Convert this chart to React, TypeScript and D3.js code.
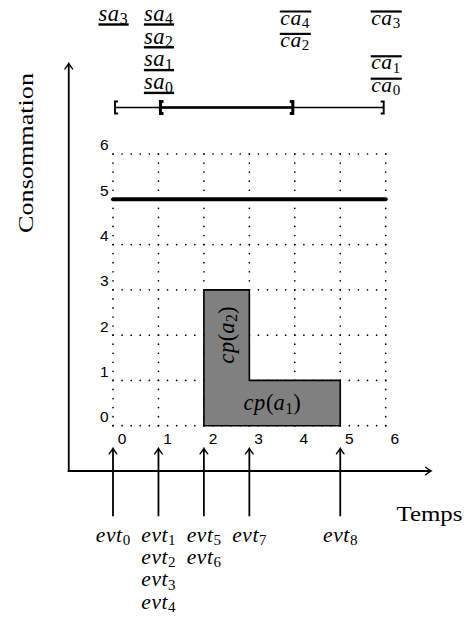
import { useRef, useEffect } from 'react';
import * as d3 from 'd3';

// grid ticks (labels sit 0.2 units past their grid line)
const timeTicks = [0, 1, 2, 3, 4, 5, 6];
const consumptionTicks = [0, 1, 2, 3, 4, 5, 6];
const tickShift = 0.2;

// events on the time axis
const eventTimes = [0, 1, 2, 3, 5];
const eventIds = [[0], [1, 2, 3, 4], [5, 6], [7], [8]];

// consumption profiles, stacked in this order
const profileSubs = ['1', '2'];
const profileStart = [2, 2];
const profileEnd = [5, 3];
const profileLevel = [1, 2];

// consumption cap
const capacity = 5;

// availability windows on top
const windowStart = [0, 1];
const windowEnd = [6, 4];

// start (underlined) and completion (overlined) labels
const startTimes = [0, 1];
const startIds = [[3], [4, 2, 1, 0]];
const endTimes = [4, 6];
const endIds = [[4, 2], [3, null, 1, 0]];

type Part = [string, 'i' | 'r' | 's'];
type G = d3.Selection<SVGGElement, unknown, null, undefined>;

const SERIF = 'Liberation Serif';

function math(parent: G, x: number, y: number, parts: Part[], size = 22.5) {
  const t = parent
    .append('text')
    .attr('x', x)
    .attr('y', y)
    .attr('text-anchor', 'middle')
    .attr('font-family', SERIF)
    .attr('font-size', size);
  let lowered = false;
  parts.forEach(([s, k]) => {
    const sp = t.append('tspan').text(s);
    if (k === 's') {
      sp.attr('font-size', size * 0.7).attr('font-style', 'normal');
      if (!lowered) {
        sp.attr('dy', 3.5);
        lowered = true;
      }
    } else {
      sp.attr('font-style', k === 'i' ? 'italic' : 'normal');
      if (k === 'i') sp.attr('letter-spacing', 0.6);
      if (lowered) {
        sp.attr('dy', -3.5);
        lowered = false;
      }
    }
  });
  return t;
}

function arrow(g: G, x1: number, y1: number, x2: number, y2: number, w: number) {
  const a = Math.atan2(y2 - y1, x2 - x1);
  g.append('line')
    .attr('x1', x1)
    .attr('y1', y1)
    .attr('x2', x2 - 1.2 * Math.cos(a))
    .attr('y2', y2 - 1.2 * Math.sin(a))
    .attr('stroke', '#000')
    .attr('stroke-width', w);
  g.append('path')
    .attr('d', 'M-5.5,-3.8 Q-2,-1 0,0 Q-2,1 -5.5,3.8')
    .attr('transform', `translate(${x2},${y2}) rotate(${(a * 180) / Math.PI})`)
    .attr('fill', 'none')
    .attr('stroke', '#000')
    .attr('stroke-width', 1.4)
    .attr('stroke-linecap', 'round');
}

const App = () => {
  const svgRef = useRef<SVGSVGElement>(null);

  useEffect(() => {
    if (!svgRef.current) return;
    const width = 467;
    const height = 621;

    const svg = d3.select(svgRef.current).attr('width', width).attr('height', height);
    svg.selectAll('*').remove();
    const g = svg.append('g') as G;

    const x = d3.scaleLinear().domain([0, 6]).range([113, 385.7]);
    const y = d3.scaleLinear().domain([0, 6]).range([425.7, 154]);
    const unitX = x(1) - x(0);
    const unitY = y(0) - y(1);

    // dotted grid
    const grid = g
      .append('g')
      .attr('stroke', '#000')
      .attr('stroke-width', 1.7)
      .attr('stroke-linecap', 'round')
      .attr('fill', 'none');
    grid
      .selectAll('line.v')
      .data(timeTicks)
      .enter()
      .append('line')
      .attr('x1', (d) => x(d))
      .attr('x2', (d) => x(d))
      .attr('y1', y(0))
      .attr('y2', y(6))
      .attr('stroke-dasharray', `0 ${unitY / 5}`);
    grid
      .selectAll('line.h')
      .data(consumptionTicks)
      .enter()
      .append('line')
      .attr('x1', x(0))
      .attr('x2', x(6))
      .attr('y1', (d) => y(d))
      .attr('y2', (d) => y(d))
      .attr('stroke-dasharray', `0 ${unitX / 5}`);

    // tick labels
    const ticks = g.append('g').attr('font-family', 'Liberation Sans').attr('font-size', 15.5);
    ticks
      .selectAll('text.x')
      .data(timeTicks)
      .enter()
      .append('text')
      .attr('x', (d) => x(d + tickShift))
      .attr('y', y(0) + 17.8)
      .attr('text-anchor', 'middle')
      .text((d) => d);
    ticks
      .selectAll('text.y')
      .data(consumptionTicks)
      .enter()
      .append('text')
      .attr('x', x(0) - 4.5)
      .attr('y', (d) => y(d + tickShift) + 5.5)
      .attr('text-anchor', 'end')
      .text((d) => d);

    // stacked consumption profiles
    const breaks = Array.from(new Set([...profileStart, ...profileEnd])).sort((a, b) => a - b);
    const steps = breaks.map((b) => ({
      t: b,
      v: d3.sum(profileLevel, (l, i) => (profileStart[i] <= b && b < profileEnd[i] ? l : 0)),
    }));
    const area = d3
      .area<{ t: number; v: number }>()
      .x((d) => x(d.t))
      .y0(y(0))
      .y1((d) => y(d.v))
      .curve(d3.curveStepAfter);
    g.append('path')
      .attr('d', area(steps)!)
      .attr('fill', '#808080')
      .attr('stroke', '#000')
      .attr('stroke-width', 1.6)
      .attr('stroke-linejoin', 'miter');

    profileSubs.forEach((sub, i) => {
      const base = d3.sum(profileLevel.slice(0, i), (l, j) =>
        profileStart[j] <= profileStart[i] && profileStart[i] < profileEnd[j] ? l : 0,
      );
      const cx = x((profileStart[i] + profileEnd[i]) / 2);
      const cy = y(base + profileLevel[i] / 2);
      const parts: Part[] = [['cp', 'i'], ['(', 'r'], ['a', 'i'], [sub, 's'], [')', 'r']];
      const vertical = profileEnd[i] - profileStart[i] < profileLevel[i];
      const lg = g.append('g').attr('transform', `translate(${cx},${cy}) rotate(${vertical ? -90 : 0})`) as G;
      math(lg, 0, 7, parts);
    });

    // consumption cap
    g.append('line')
      .attr('x1', x(0))
      .attr('x2', x(6))
      .attr('y1', y(capacity))
      .attr('y2', y(capacity))
      .attr('stroke', '#000')
      .attr('stroke-width', 4)
      .attr('stroke-linecap', 'round');

    // axes
    const ox = x(-1) + 1.2;
    const oy = y(-1);
    arrow(g, ox - 1, oy, x(7), oy, 1.8);
    arrow(g, ox, oy + 1, ox, y(8), 1.8);

    g.append('text')
      .attr('transform', `translate(33,153) rotate(-90)`)
      .attr('text-anchor', 'middle')
      .attr('font-family', SERIF)
      .attr('font-size', 22)
      .attr('textLength', 160)
      .attr('lengthAdjust', 'spacingAndGlyphs')
      .text('Consommation');
    g.append('text')
      .attr('x', 396.5)
      .attr('y', 520.7)
      .attr('font-family', SERIF)
      .attr('font-size', 22)
      .attr('textLength', 66)
      .attr('lengthAdjust', 'spacingAndGlyphs')
      .text('Temps');

    // events
    eventTimes.forEach((t, i) => {
      arrow(g, x(t), y(-2), x(t), y(-0.5), 1.8);
      eventIds[i].forEach((id, r) => {
        math(g, x(t), 541.5 + r * 22.4, [['evt', 'i'], [String(id), 's']], 21.5);
      });
    });

    // windows
    const wy = y(7) - 1.2;
    const windowWidths = [1.3, 2.4];
    windowStart.forEach((s, i) => {
      const w = windowWidths[i];
      const xs = x(s) + 2;
      const xe = x(windowEnd[i]) - 2;
      g.append('line')
        .attr('x1', xs)
        .attr('x2', xe)
        .attr('y1', wy)
        .attr('y2', wy)
        .attr('stroke', '#000')
        .attr('stroke-width', w);
      g.append('path')
        .attr('d', `M${xs + 3},${wy - 6} H${xs} V${wy + 6} H${xs + 3}`)
        .attr('fill', 'none')
        .attr('stroke', '#000')
        .attr('stroke-width', w + 0.6);
      g.append('path')
        .attr('d', `M${xe - 3},${wy - 6} H${xe} V${wy + 6} H${xe - 3}`)
        .attr('fill', 'none')
        .attr('stroke', '#000')
        .attr('stroke-width', w + 0.6);
    });

    // start labels (underlined)
    startTimes.forEach((t, i) => {
      startIds[i].forEach((id, r) => {
        const by = 20.7 + r * 22.8;
        const txt = math(g, x(t), by, [['sa', 'i'], [String(id), 's']]);
        const b = (txt.node() as SVGTextElement).getBBox();
        g.append('line')
          .attr('x1', b.x)
          .attr('x2', b.x + b.width + 1)
          .attr('y1', by + 3.8)
          .attr('y2', by + 3.8)
          .attr('stroke', '#000')
          .attr('stroke-width', 2.4);
      });
    });

    // completion labels (overlined)
    endTimes.forEach((t, i) => {
      endIds[i].forEach((id, r) => {
        if (id === null) return;
        const by = 24.5 + r * 22.4;
        const txt = math(g, x(t), by, [['ca', 'i'], [String(id), 's']], 21.5);
        const b = (txt.node() as SVGTextElement).getBBox();
        g.append('line')
          .attr('x1', b.x - 0.5)
          .attr('x2', b.x + b.width + 1.5)
          .attr('y1', by - 13)
          .attr('y2', by - 13)
          .attr('stroke', '#000')
          .attr('stroke-width', 2.2);
      });
    });
  }, []);

  return (
    <svg
      ref={svgRef}
      style={{ position: 'absolute', left: 0, top: 0, background: '#fff' }}
    ></svg>
  );
};

export default App;
